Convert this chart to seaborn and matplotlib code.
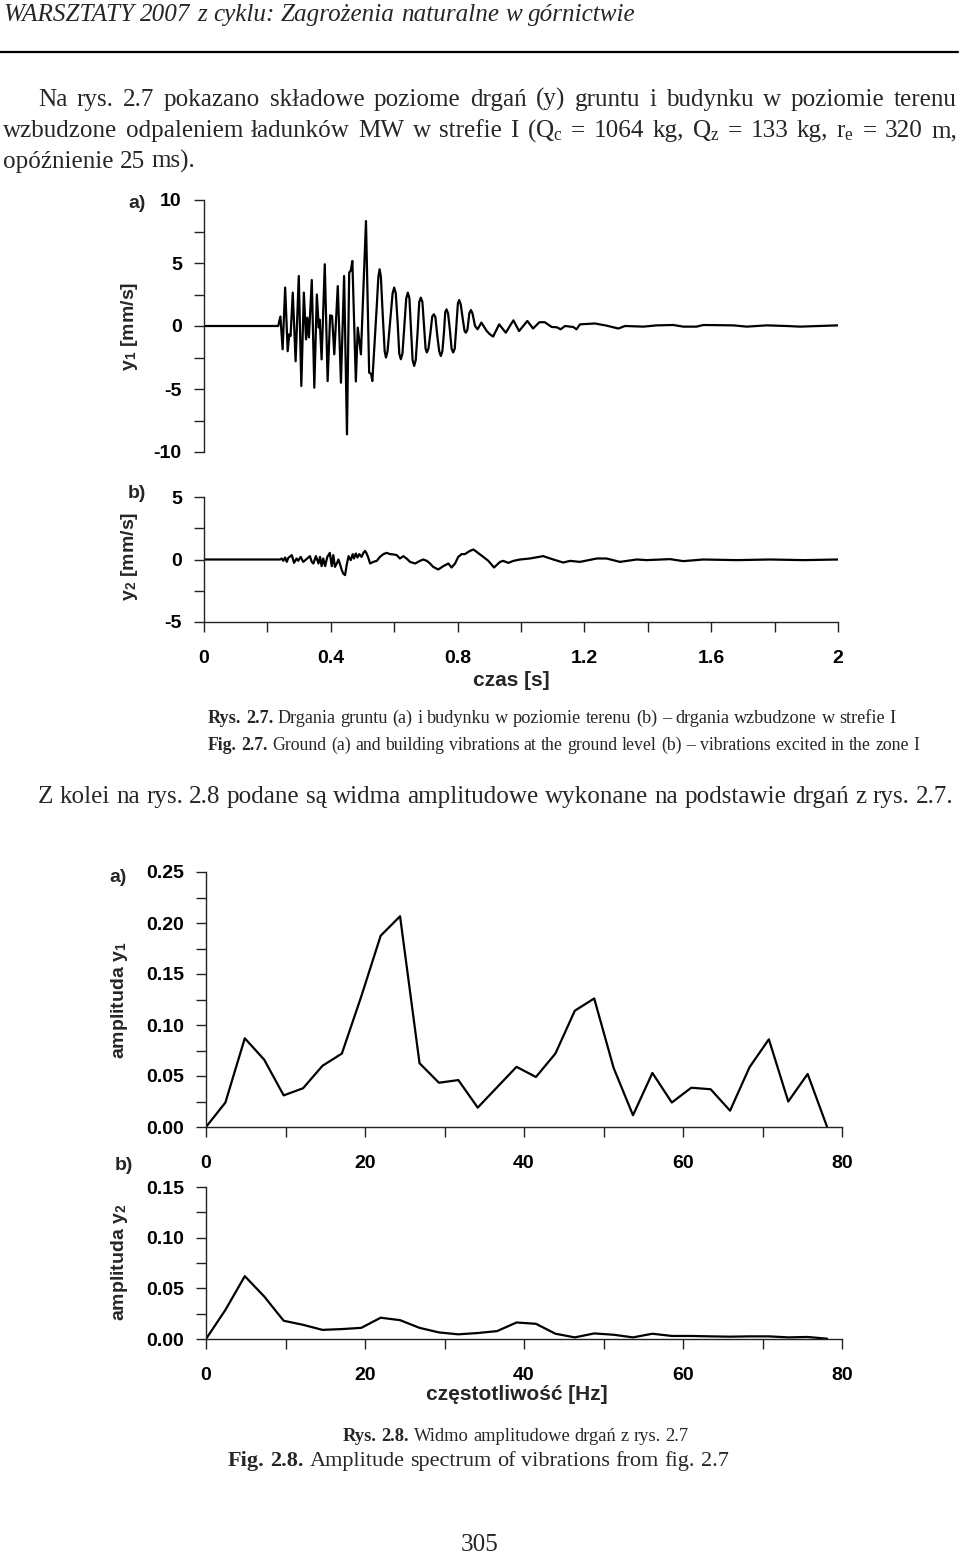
import matplotlib
matplotlib.use("Agg")
import matplotlib.pyplot as plt
import seaborn as sns
import pandas as pd
from matplotlib.ticker import MultipleLocator
from matplotlib.lines import Line2D

# ---------------- data ----------------
# Fig. 2.7 a) ground vibration y1 [mm/s] vs time [s]
t1 = [0.0, 0.234, 0.241, 0.248, 0.256, 0.264, 0.269, 0.273, 0.280, 0.289, 0.299, 0.307, 0.315, 0.322,
      0.326, 0.331, 0.340, 0.348, 0.356, 0.362, 0.365, 0.371, 0.381, 0.390, 0.398, 0.404, 0.411, 0.422,
      0.432, 0.442, 0.451, 0.458, 0.463, 0.468, 0.479, 0.485, 0.495, 0.511, 0.521, 0.527, 0.531,
      0.545, 0.550, 0.554, 0.558, 0.564, 0.570, 0.574, 0.579, 0.587, 0.595, 0.600, 0.605, 0.611,
      0.616, 0.621, 0.626, 0.632, 0.638, 0.643, 0.648, 0.653, 0.658, 0.663, 0.668, 0.674, 0.679,
      0.684, 0.689, 0.694, 0.699, 0.703, 0.708, 0.714, 0.720, 0.725, 0.730, 0.736, 0.742, 0.747,
      0.752, 0.757, 0.761, 0.765, 0.770, 0.776, 0.781, 0.786, 0.791, 0.796, 0.801, 0.805, 0.810,
      0.816, 0.822, 0.826, 0.831, 0.837, 0.842, 0.847, 0.855, 0.863,
      0.875, 0.892, 0.902, 0.912, 0.931, 0.952, 0.976, 0.994, 1.020, 1.038, 1.058, 1.075,
      1.097, 1.113, 1.125, 1.139, 1.165, 1.175, 1.186, 1.233, 1.270, 1.307, 1.328, 1.386, 1.428, 1.480,
      1.512, 1.554, 1.575, 1.670, 1.712, 1.775, 1.838, 1.880, 1.943, 2.000]
y1 = [0.0, 0.0, 0.75, -1.85, 3.05, -2.0, -0.66, -0.8, 2.65, -2.8, 3.97, -4.76, 2.65, -1.06,
      0.66, -0.9, 3.65, -4.9, 2.5, -0.13, 0.5, -2.65, 4.9, -4.37, 0.85, 0.8, -2.25, 3.17,
      -4.5, 3.97, -8.6, 4.24, 4.4, 5.16, -4.4, -0.13, -2.25, 8.33, -3.7, -3.8, -4.37,
      1.59, 3.9, 4.5, 3.9, 0.8, -2.0, -2.5, -2.0, 0.3, 2.6, 3.05, 2.6, 0.2,
      -2.2, -2.64, -2.2, 0.0, 2.2, 2.65, 2.2, -0.3, -2.7, -3.17, -2.7, -0.4, 1.9,
      2.25, 1.9, 0.1, -1.8, -2.1, -1.8, -0.6, 0.75, 0.93, 0.7, -0.8, -2.0, -2.38,
      -2.0, -0.5, 1.1, 1.32, 1.0, -0.4, -1.8, -2.1, -1.8, 0.0, 1.8, 2.06, 1.7,
      0.6, -0.4, -0.53, -0.3, 1.0, 1.27, 1.0, 0.0, -0.26,
      0.27, -0.4, -0.66, -0.84, 0.13, -0.53, 0.45, -0.4, 0.4, -0.2, 0.3, 0.3,
      -0.08, -0.1, -0.26, 0.0, -0.08, -0.26, 0.13, 0.2, 0.03, -0.2, 0.0, -0.05, 0.05, 0.08,
      -0.05, -0.05, 0.08, 0.05, -0.05, 0.05, 0.0, -0.05, 0.0, 0.05]

# Fig. 2.7 b) building vibration y2 [mm/s] vs time [s]
t2 = [0.0, 0.240, 0.245, 0.250, 0.256, 0.261, 0.266, 0.277, 0.284, 0.292,
      0.297, 0.305, 0.313, 0.322, 0.329, 0.334, 0.340, 0.345, 0.353, 0.361,
      0.366, 0.371, 0.376, 0.382, 0.389, 0.397, 0.403, 0.408, 0.413, 0.419,
      0.424, 0.429, 0.434, 0.439, 0.445, 0.450, 0.456, 0.463, 0.469, 0.473,
      0.479, 0.484, 0.490, 0.497, 0.503, 0.508, 0.513, 0.518, 0.524, 0.534,
      0.545, 0.555, 0.566, 0.576, 0.587, 0.599, 0.608, 0.618, 0.629, 0.639,
      0.650, 0.666, 0.681, 0.692, 0.703, 0.713, 0.723, 0.739, 0.755, 0.771,
      0.781, 0.792, 0.802, 0.813, 0.823, 0.834, 0.839, 0.850, 0.860, 0.881,
      0.897, 0.915, 0.934, 0.944, 0.960, 0.976, 0.997, 1.028, 1.070, 1.102,
      1.133, 1.155, 1.186, 1.239, 1.270, 1.312, 1.365, 1.397, 1.470, 1.512,
      1.575, 1.681, 1.785, 1.891, 2.000]
y2 = [0, 0, 0.08, -0.1, 0.16, -0.19, 0.13, 0.35, -0.27, 0.08,
      -0.1, 0.21, -0.19, 0, 0.16, 0.27, -0.19, -0.32, 0.27, -0.32,
      0.21, -0.53, 0.08, -0.53, 0.21, 0.53, -0.53, 0.35, -0.59, -0.32,
      0, -0.37, -0.8, -1.12, -1.25, -0.45, 0.27, -0.05, 0.43, 0.08,
      0.48, 0.16, 0.43, 0.21, 0.53, 0.69, 0.48, 0.16, -0.32, -0.19,
      -0.11, 0.21, 0.43, 0.53, 0.43, 0.4, 0.35, 0.08, 0.27, 0.08,
      -0.19, -0.32, -0.11, 0, -0.11, -0.32, -0.59, -0.8, -0.53, -0.32,
      -0.64, -0.32, 0.21, 0.43, 0.43, 0.61, 0.69, 0.8, 0.61, 0.21,
      -0.11, -0.64, -0.19, -0.11, -0.27, -0.11, 0, 0.08, 0.27, 0,
      -0.24, -0.11, -0.19, 0.08, 0.08, -0.19, 0, -0.05, 0.03, -0.13,
      0, -0.05, 0, -0.05, 0]

# Fig. 2.8 amplitude spectra
freq = [0.0, 2.44, 4.88, 7.32, 9.77, 12.21, 14.65, 17.09, 19.53, 21.97, 24.41, 26.86, 29.30, 31.74,
        34.18, 36.62, 39.06, 41.50, 43.95, 46.39, 48.83, 51.27, 53.71, 56.15, 58.59, 61.04, 63.48,
        65.92, 68.36, 70.80, 73.24, 75.68, 78.13]
amp1 = [0.0, 0.024, 0.087, 0.066, 0.031, 0.038, 0.060, 0.072, 0.128, 0.1875, 0.2066, 0.0625, 0.0434,
        0.046, 0.019, 0.039, 0.059, 0.049, 0.072, 0.114, 0.126, 0.058, 0.0115, 0.053, 0.024, 0.0385,
        0.037, 0.016, 0.0585, 0.086, 0.025, 0.052, 0.0]
amp2 = [0.0, 0.0287, 0.062, 0.042, 0.018, 0.014, 0.009, 0.0098, 0.011, 0.021, 0.0186, 0.011, 0.0065,
        0.0046, 0.0059, 0.0078, 0.0163, 0.015, 0.0052, 0.0016, 0.0055, 0.0042, 0.0016, 0.0052, 0.003,
        0.003, 0.0026, 0.0023, 0.0026, 0.0026, 0.0016, 0.002, 0.0003]

# tick labels
yt_a = [-10, -5, 0, 5, 10]
yl_a = ["-10", "-5", "0", "5", "10"]
yt_b = [-5, 0, 5]
yl_b = ["-5", "0", "5"]
xt_t = [0, 0.4, 0.8, 1.2, 1.6, 2.0]
xl_t = ["0", "0.4", "0.8", "1.2", "1.6", "2"]
yt_c = [0.0, 0.05, 0.10, 0.15, 0.20, 0.25]
yl_c = ["0.00", "0.05", "0.10", "0.15", "0.20", "0.25"]
yt_d = [0.0, 0.05, 0.10, 0.15]
yl_d = ["0.00", "0.05", "0.10", "0.15"]
xt_f = [0, 20, 40, 60, 80]
xl_f = ["0", "20", "40", "60", "80"]

# ---------------- style ----------------
sns.set_theme(style="ticks")
SANS = ['Liberation Sans', 'DejaVu Sans']
SERIF = ['Liberation Serif', 'DejaVu Serif']
plt.rcParams['font.family'] = SANS
plt.rcParams['axes.unicode_minus'] = False
plt.rcParams['mathtext.fontset'] = 'custom'
plt.rcParams['mathtext.rm'] = 'Liberation Serif'
plt.rcParams['mathtext.it'] = 'Liberation Serif:italic'
plt.rcParams['mathtext.bf'] = 'Liberation Sans:bold'

W, H = 960, 1555
fig = plt.figure(figsize=(W / 100, H / 100), dpi=100)
fig.patch.set_facecolor('white')


def fx(x):
    return x / W


def fy(y):
    return 1 - y / H


def add_ax(l, t, r, b):
    return fig.add_axes([fx(l), fy(b), (r - l) / W, (b - t) / H])


SPINE = '#222222'
TICK_FS = 14
LAB_FS = 15


def style_axis(ax, bottom=True):
    for s in ['top', 'right']:
        ax.spines[s].set_visible(False)
    ax.spines['left'].set_color(SPINE)
    ax.spines['left'].set_linewidth(1.0)
    ax.spines['bottom'].set_visible(bottom)
    ax.spines['bottom'].set_color(SPINE)
    ax.spines['bottom'].set_linewidth(1.0)
    ax.tick_params(axis='both', which='both', direction='out', length=7, width=1.0,
                   color=SPINE, labelcolor='black')
    ax.tick_params(axis='y', which='major', pad=9)
    ax.tick_params(axis='x', which='major', pad=13)
    ax.set_xlabel('')
    ax.set_ylabel('')
    ax.set_facecolor('none')


LINE_KW = dict(color='black', linewidth=1.6, estimator=None, sort=False)

# --- a) y1 time history
ax_a = add_ax(204, 200, 838, 452)
sns.lineplot(data=pd.DataFrame({'t': t1, 'v': y1}), x='t', y='v', ax=ax_a, **LINE_KW)
ax_a.set_xlim(0, 2)
ax_a.set_ylim(-10, 10)
style_axis(ax_a, bottom=False)
ax_a.set_xticks([])
ax_a.set_yticks(yt_a, labels=yl_a, fontweight='bold', fontsize=TICK_FS)
ax_a.yaxis.set_minor_locator(MultipleLocator(2.5))

# --- b) y2 time history
ax_b = add_ax(204, 497, 838, 622)
sns.lineplot(data=pd.DataFrame({'t': t2, 'v': y2}), x='t', y='v', ax=ax_b, **LINE_KW)
ax_b.set_xlim(0, 2)
ax_b.set_ylim(-5, 5)
style_axis(ax_b)
ax_b.set_yticks(yt_b, labels=yl_b, fontweight='bold', fontsize=TICK_FS)
ax_b.yaxis.set_minor_locator(MultipleLocator(2.5))
ax_b.set_xticks(xt_t, labels=xl_t, fontweight='bold', fontsize=TICK_FS)
ax_b.xaxis.set_minor_locator(MultipleLocator(0.2))

# --- c) spectrum y1
ax_c = add_ax(206, 872, 842, 1127)
sns.lineplot(data=pd.DataFrame({'f': freq, 'a': amp1}), x='f', y='a', ax=ax_c, **LINE_KW)
ax_c.set_xlim(0, 80)
ax_c.set_ylim(0, 0.25)
style_axis(ax_c)
ax_c.set_yticks(yt_c, labels=yl_c, fontweight='bold', fontsize=TICK_FS)
ax_c.yaxis.set_minor_locator(MultipleLocator(0.025))
ax_c.set_xticks(xt_f, labels=xl_f, fontweight='bold', fontsize=TICK_FS)
ax_c.xaxis.set_minor_locator(MultipleLocator(10))

# --- d) spectrum y2
ax_d = add_ax(206, 1187, 842, 1339)
sns.lineplot(data=pd.DataFrame({'f': freq, 'a': amp2}), x='f', y='a', ax=ax_d, **LINE_KW)
ax_d.set_xlim(0, 80)
ax_d.set_ylim(0, 0.15)
style_axis(ax_d)
ax_d.set_yticks(yt_d, labels=yl_d, fontweight='bold', fontsize=TICK_FS)
ax_d.yaxis.set_minor_locator(MultipleLocator(0.025))
ax_d.set_xticks(xt_f, labels=xl_f, fontweight='bold', fontsize=TICK_FS)
ax_d.xaxis.set_minor_locator(MultipleLocator(10))


# chart labels
def lab(x, y, s, size=TICK_FS, rot=0):
    fig.text(fx(x), fy(y), s, ha='center', va='center', fontsize=size,
             fontweight='bold', rotation=rot, family=SANS)


lab(137, 203, 'a)')
lab(137, 493, 'b)')
lab(130, 326, r'$\mathbf{y}_\mathbf{1}$ [mm/s]', rot=90)
lab(130, 556, r'$\mathbf{y}_\mathbf{2}$ [mm/s]', rot=90)
lab(511, 681, 'czas [s]', size=LAB_FS)
lab(118, 878, 'a)')
lab(124, 1166, 'b)')
lab(120, 1000, r'amplituda $\mathbf{y}_\mathbf{1}$', rot=90)
lab(120, 1262, r'amplituda $\mathbf{y}_\mathbf{2}$', rot=90)
lab(517, 1395, 'częstotliwość [Hz]', size=LAB_FS)

# ---------------- page text ----------------
renderer = fig.canvas.get_renderer()


def measure(txt, size, weight='normal', style='normal'):
    t = fig.text(0, 0, txt, fontsize=size, fontweight=weight, fontstyle=style, family=SERIF)
    w = t.get_window_extent(renderer=renderer).width
    t.remove()
    return w


def widths(tokens, sz):
    ws = [measure(tx, sz, wt, st) for tx, wt, st in tokens]
    st = tokens[-1][2]
    sp = measure('n n', sz, 'normal', st) - measure('nn', sz, 'normal', st)
    return ws, sp


def fit_size(tokens, x0, x1, size):
    for _ in range(3):
        ws, sp = widths(tokens, size)
        total = sum(ws) + sp * (len(tokens) - 1)
        size *= (x1 - x0) / total
    return size


def place_line(tokens, x0, x1, base_y, size, mode='left'):
    ws, sp = widths(tokens, size)
    gap = (x1 - x0 - sum(ws)) / (len(tokens) - 1) if mode == 'justify' else sp
    x = x0
    for (tx, wt, st), w in zip(tokens, ws):
        fig.text(fx(x), fy(base_y), tx, fontsize=size, fontweight=wt, fontstyle=st,
                 family=SERIF, ha='left', va='baseline')
        x += w + gap


def fitted(tokens, x0, x1, base_y, size):
    place_line(tokens, x0, x1, base_y, fit_size(tokens, x0, x1, size))


def words(s, weight='normal', style='normal'):
    return [(w, weight, style) for w in s.split()]


fitted(words('WARSZTATY 2007 z cyklu: Zagrożenia naturalne w górnictwie', style='italic'),
       3, 634, 21, 16)
fig.add_artist(Line2D([0, 958 / W], [fy(52), fy(52)], transform=fig.transFigure,
                      color='black', linewidth=1.6))

zk = words('Z kolei na rys. 2.8 podane są widma amplitudowe wykonane na podstawie drgań z rys. 2.7.')
PAR = fit_size(zk, 38, 953, 17)
place_line(words('Na rys. 2.7 pokazano składowe poziome drgań (y) gruntu i budynku w poziomie terenu'),
           38, 957, 106, PAR, mode='justify')
line2 = words('wzbudzone odpaleniem ładunków MW w strefie I') + \
    [(r'($\mathrm{Q_c}$', 'normal', 'normal'), ('=', 'normal', 'normal'), ('1064', 'normal', 'normal'),
     ('kg,', 'normal', 'normal'), (r'$\mathrm{Q_z}$', 'normal', 'normal'), ('=', 'normal', 'normal'),
     ('133', 'normal', 'normal'), ('kg,', 'normal', 'normal'), (r'$\mathrm{r_e}$', 'normal', 'normal'),
     ('=', 'normal', 'normal'), ('320', 'normal', 'normal'), ('m,', 'normal', 'normal')]
place_line(line2, 3, 957, 137, PAR, mode='justify')
place_line(words('opóźnienie 25 ms).'), 3, 200, 168, PAR)
place_line(zk, 38, 953, 803, PAR)

fitted(words('Rys. 2.7.', weight='bold') +
       words('Drgania gruntu (a) i budynku w poziomie terenu (b) – drgania wzbudzone w strefie I'),
       208, 893, 723, 13)
fitted(words('Fig. 2.7.', weight='bold') +
       words('Ground (a) and building vibrations at the ground level (b) – vibrations excited in the zone I'),
       208, 920, 750, 13)
fitted(words('Rys. 2.8.', weight='bold') + words('Widmo amplitudowe drgań z rys. 2.7'),
       343, 690, 1441, 13)
fitted(words('Fig. 2.8.', weight='bold') + words('Amplitude spectrum of vibrations from fig. 2.7'),
       228, 731, 1466, 13)
fig.text(fx(480), fy(1551), '305', ha='center', va='baseline', fontsize=PAR, family=SERIF)

fig.savefig('out.png', dpi=100, facecolor='white')
